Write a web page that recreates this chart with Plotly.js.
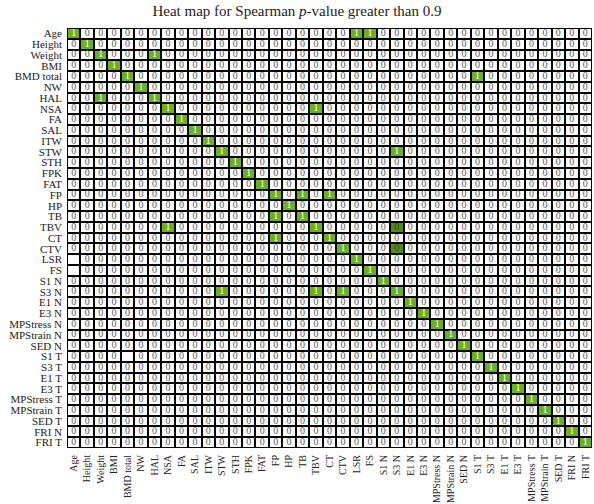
<!DOCTYPE html>
<html>
<head>
<meta charset="utf-8">
<script src="https://cdn.plot.ly/plotly-3.0.1.min.js"></script>
<style>html,body{margin:0;padding:0;background:#fff;}#chart{width:594px;height:504px;}</style>
</head>
<body>
<div id="chart"></div>
<script>
// Variable names (rows top-to-bottom, columns left-to-right)
const labels = ["Age","Height","Weight","BMI","BMD total","NW","HAL","NSA","FA","SAL","ITW","STW","STH","FPK","FAT","FP","HP","TB","TBV","CT","CTV","LSR","FS","S1 N","S3 N","E1 N","E3 N","MPStress N","MPStrain N","SED N","S1 T","S3 T","E1 T","E3 T","MPStress T","MPStrain T","SED T","FRI N","FRI T"];

// Cell values per row: '1' = p > 0.9, '0' = not, '-' = empty cell, 'g' = shaded cell shown as 0
const rows = [
"100000000000000000000110000000000000000",
"010000000000000000000000000000000000000",
"001000100000000000000000000000000000000",
"000100000000000000000000000000000000000",
"000010000000000000000000000000100000000",
"000001000000000000000000000000000000000",
"001000100000000000000000000000000000000",
"000000010000000000100000000000000000000",
"000000001000000000000000000000000000000",
"000000000100000000000000000000000000000",
"000000000010000000000000000000000000000",
"000000000001000000000000100000000000000",
"000000000000100000000000000000000000000",
"000000000000010000000000000000000000000",
"000000000000001000000000000000000000000",
"000000000000000101010000000000000000000",
"000000000000000010000000000000000000000",
"000000000000000101000000000000000000000",
"000000010000000000100000g00000000000000",
"000000000000000100010000000000000000000",
"000000000000000000001000g00000000000000",
"-00000000000000000000100000000000000000",
"-00000000000000000000010000000000000000",
"000000000000000000000001000000000000000",
"000000000001000000101000100000000000000",
"000000000000000000000000010000000000000",
"000000000000000000000000001000000000000",
"000000000000000000000000000100000000000",
"000000000000000000000000000010000000000",
"000000000000000000000000000001000000000",
"0000-0000000000000000000000000100000000",
"000000000000000000000000000000010000000",
"000000000000000000000000000000001000000",
"000000000000000000000000000000000100000",
"000000000000000000000000000000000010000",
"000000000000000000000000000000000001000",
"000000000000000000000000000000000000100",
"000000000000000000000000000000000000010",
"000000000000000000000000000000000000001"
];

const GREEN = "#6bb020";
const DARKGREEN = "#4f8c12";

const z = [], tx = [], ty = [], tt = [], tc = [];
rows.forEach((r, i) => {
  const zr = [];
  for (let j = 0; j < labels.length; j++) {
    const c = r[j];
    let v = 0, t = "0", col = "#5a5a5a";
    if (c === "1") { v = 1; t = "1"; col = "#ffffff"; }
    else if (c === "g") { v = 2; t = "0"; col = "#3a3a3a"; }
    else if (c === "-") { v = 0; t = ""; }
    zr.push(v);
    tx.push(labels[j]); ty.push(labels[i]); tt.push(t); tc.push(col);
  }
  z.push(zr);
});

const heat = {
  type: "heatmap",
  x: labels, y: labels, z: z,
  zmin: 0, zmax: 2,
  colorscale: [[0,"#ffffff"],[0.25,"#ffffff"],[0.25,GREEN],[0.75,GREEN],[0.75,DARKGREEN],[1,DARKGREEN]],
  showscale: false,
  xgap: 2, ygap: 2,
  hoverinfo: "skip"
};
const txt = {
  type: "scatter", mode: "text",
  x: tx, y: ty, text: tt,
  textfont: {family: "Liberation Serif, Times New Roman, serif", size: 10, color: tc},
  hoverinfo: "skip", showlegend: false
};

const serif = "Liberation Serif, Times New Roman, serif";
const layout = {
  width: 594, height: 504,
  margin: {l: 67, r: 2, t: 28, b: 56, pad: 0},
  paper_bgcolor: "#ffffff",
  plot_bgcolor: "#000000",
  title: {
    text: "Heat map for Spearman <i>p</i>-value greater than 0.9",
    font: {family: serif, size: 15, color: "#222"},
    x: 0.5, xref: "container", xanchor: "center",
    y: 0.978, yref: "container", yanchor: "middle"
  },
  xaxis: {
    type: "category", categoryorder: "array", categoryarray: labels,
    tickmode: "array", tickvals: labels, ticktext: labels,
    range: [-0.5, labels.length - 0.5],
    tickangle: -90, showgrid: false, zeroline: false, ticks: "",
    ticklabelstandoff: 4,
    tickfont: {family: serif, size: 10, color: "#222"},
    showline: false, fixedrange: true
  },
  yaxis: {
    type: "category", categoryorder: "array", categoryarray: labels,
    tickmode: "array", tickvals: labels, ticktext: labels,
    range: [labels.length - 0.5, -0.5],
    showgrid: false, zeroline: false, ticks: "",
    ticklabelstandoff: 4,
    tickfont: {family: serif, size: 11, color: "#222"},
    showline: false, fixedrange: true
  },
  showlegend: false
};

Plotly.newPlot("chart", [heat, txt], layout, {displayModeBar: false, staticPlot: true});
</script>
</body>
</html>
